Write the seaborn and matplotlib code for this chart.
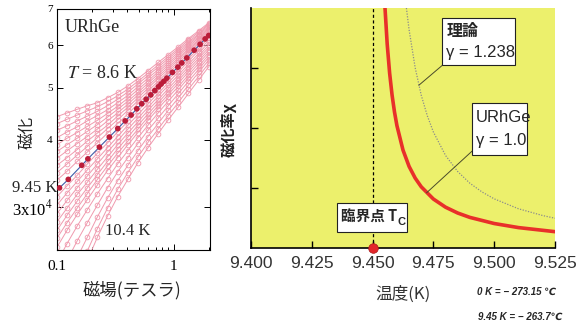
import numpy as np
import pandas as pd
import matplotlib
matplotlib.use("Agg")
import matplotlib.pyplot as plt
from matplotlib.patches import Rectangle
from matplotlib.ticker import FixedLocator, FixedFormatter, NullLocator, NullFormatter, LogLocator
import seaborn as sns

# ---------------- data ----------------
# magnetic field grid of the isotherms (tesla)
field = [0.1, 0.122, 0.149, 0.182, 0.222, 0.271, 0.331, 0.405, 0.494, 0.603,
         0.736, 0.899, 1.10, 1.34, 1.64, 2.0]

# magnetization (units of 1e4) -- isotherms below Tc, from 8.6 K upward
m_ferro_01 = [4.42, 4.49, 4.56, 4.63, 4.69, 4.79, 4.90, 5.04, 5.20, 5.38, 5.57, 5.76, 5.96, 6.17, 6.38, 6.60]
m_ferro_02 = [4.29, 4.37, 4.45, 4.53, 4.61, 4.71, 4.83, 4.97, 5.14, 5.32, 5.51, 5.71, 5.91, 6.13, 6.34, 6.57]
m_ferro_03 = [4.17, 4.25, 4.34, 4.43, 4.52, 4.63, 4.76, 4.91, 5.08, 5.27, 5.46, 5.66, 5.87, 6.08, 6.30, 6.54]
m_ferro_04 = [4.04, 4.14, 4.23, 4.34, 4.44, 4.55, 4.69, 4.84, 5.02, 5.21, 5.40, 5.61, 5.82, 6.04, 6.27, 6.50]
m_ferro_05 = [3.92, 4.03, 4.13, 4.24, 4.35, 4.48, 4.62, 4.78, 4.96, 5.15, 5.35, 5.56, 5.77, 6.00, 6.23, 6.47]
m_ferro_06 = [3.81, 3.92, 4.03, 4.15, 4.27, 4.41, 4.56, 4.72, 4.90, 5.10, 5.30, 5.51, 5.73, 5.96, 6.19, 6.44]
m_ferro_07 = [3.70, 3.82, 3.94, 4.06, 4.19, 4.34, 4.49, 4.66, 4.85, 5.04, 5.25, 5.46, 5.68, 5.91, 6.15, 6.40]
m_ferro_08 = [3.59, 3.71, 3.84, 3.98, 4.12, 4.26, 4.43, 4.60, 4.79, 4.99, 5.20, 5.41, 5.64, 5.87, 6.12, 6.37]
m_ferro_09 = [3.48, 3.61, 3.75, 3.89, 4.04, 4.20, 4.36, 4.54, 4.73, 4.93, 5.14, 5.36, 5.59, 5.83, 6.08, 6.34]
m_ferro_10 = [3.37, 3.50, 3.65, 3.80, 3.95, 4.12, 4.29, 4.47, 4.67, 4.87, 5.09, 5.31, 5.54, 5.78, 6.04, 6.30]

# isotherms above Tc, up to 10.4 K (the last ones start at higher field)
m_para_01 = [3.14, 3.29, 3.44, 3.61, 3.78, 3.95, 4.14, 4.33, 4.53, 4.74, 4.95, 5.18, 5.41, 5.66, 5.92, 6.19]
m_para_02 = [3.03, 3.19, 3.35, 3.52, 3.69, 3.87, 4.06, 4.26, 4.46, 4.67, 4.88, 5.11, 5.35, 5.60, 5.86, 6.13]
m_para_03 = [2.92, 3.09, 3.26, 3.43, 3.61, 3.80, 3.99, 4.19, 4.39, 4.60, 4.82, 5.05, 5.28, 5.53, 5.79, 6.07]
m_para_04 = [2.82, 2.99, 3.17, 3.34, 3.53, 3.72, 3.92, 4.12, 4.32, 4.54, 4.75, 4.98, 5.22, 5.47, 5.73, 6.00]
m_para_05 = [2.72, 2.90, 3.08, 3.26, 3.45, 3.65, 3.85, 4.05, 4.26, 4.47, 4.69, 4.92, 5.16, 5.41, 5.67, 5.94]
m_para_06 = [2.63, 2.81, 2.99, 3.18, 3.38, 3.58, 3.78, 3.98, 4.19, 4.41, 4.63, 4.86, 5.10, 5.35, 5.61, 5.88]
m_para_07 = [2.53, 2.72, 2.91, 3.10, 3.30, 3.51, 3.71, 3.92, 4.13, 4.35, 4.57, 4.80, 5.03, 5.28, 5.55, 5.82]
m_para_08 = [2.37, 2.57, 2.77, 2.97, 3.18, 3.39, 3.61, 3.82, 4.04, 4.26, 4.49, 4.72, 4.96, 5.22, 5.48, 5.76]
m_para_09 = [2.39, 2.60, 2.81, 3.03, 3.26, 3.49, 3.71, 3.94, 4.17, 4.39, 4.63, 4.88, 5.14, 5.41, 5.70]
m_para_10 = [2.42, 2.64, 2.88, 3.12, 3.36, 3.59, 3.82, 4.06, 4.29, 4.54, 4.79, 5.06, 5.34, 5.63]
m_para_11 = [2.49, 2.74, 2.99, 3.24, 3.48, 3.72, 3.96, 4.19, 4.44, 4.70, 4.97, 5.25, 5.55]
m_para_12 = [2.39, 2.64, 2.89, 3.14, 3.38, 3.63, 3.87, 4.11, 4.36, 4.61, 4.88, 5.17, 5.47]

# critical isotherm at 9.45 K
h_crit = [0.105, 0.125, 0.163, 0.184, 0.231, 0.281, 0.332, 0.384, 0.432, 0.483, 0.533, 0.581, 0.637,
          0.690, 0.741, 0.781, 0.824, 0.875, 0.977, 1.087, 1.175, 1.297, 1.50, 1.687, 1.862, 2.0]
m_crit = [3.26, 3.38, 3.59, 3.69, 3.88, 4.05, 4.20, 4.34, 4.45, 4.57, 4.67, 4.76, 4.85,
          4.94, 5.02, 5.08, 5.14, 5.21, 5.34, 5.46, 5.56, 5.68, 5.87, 6.02, 6.16, 6.25]

# susceptibility vs temperature (arb. units)
t_urhge = [9.4551, 9.456, 9.457, 9.458, 9.459, 9.46, 9.4625, 9.465, 9.4675, 9.47, 9.475,
           9.48, 9.485, 9.49, 9.50, 9.51, 9.525]
chi_urhge = [1.0, 0.85, 0.7286, 0.6375, 0.5667, 0.51, 0.408, 0.34, 0.2914, 0.255, 0.204,
             0.17, 0.1457, 0.1275, 0.102, 0.085, 0.068]
t_theory = [9.4639, 9.465, 9.4675, 9.47, 9.4725, 9.475, 9.48, 9.485, 9.49, 9.495, 9.50,
            9.51, 9.52, 9.525]
chi_theory = [1.0, 0.9096, 0.7512, 0.6366, 0.5507, 0.4832, 0.3855, 0.3185, 0.2699, 0.2334,
              0.2048, 0.1634, 0.1351, 0.1240]
t_c = 9.45

temp_ticks = [9.400, 9.425, 9.450, 9.475, 9.500, 9.525]
chi_ticks = [0.25, 0.5, 0.75]
m_ticks = [3e4, 4e4, 5e4, 6e4, 7e4]
m_tick_labels = ["3x10$^4$", "4", "5", "6", "7"]

# ---------------- style ----------------
sns.set_theme(style="ticks")
plt.rcParams["font.family"] = ["Liberation Serif", "Noto Sans CJK JP", "DejaVu Sans"]
plt.rcParams["mathtext.fontset"] = "stix"

W, H = 583, 330
fig = plt.figure(figsize=(W / 100, H / 100), dpi=100)
fig.patch.set_facecolor("white")


def fx(x):
    return x / W


def fy(y):
    return 1 - y / H


CJK = ["Noto Sans CJK JP", "DejaVu Sans"]
SANS = ["Liberation Sans", "Noto Sans CJK JP", "DejaVu Sans"]
PINK = "#F09AAE"

# ---------------- left panel: isotherms ----------------
ax1 = fig.add_axes([fx(57), fy(250), fx(210) - fx(57), fy(9) - fy(250)])
ax1.set_facecolor("white")
ax1.set_xscale("log")
ax1.set_yscale("log")

isotherms = [m_ferro_01, m_ferro_02, m_ferro_03, m_ferro_04, m_ferro_05, m_ferro_06, m_ferro_07,
             m_ferro_08, m_ferro_09, m_ferro_10, m_para_01, m_para_02, m_para_03, m_para_04,
             m_para_05, m_para_06, m_para_07, m_para_08, m_para_09, m_para_10, m_para_11, m_para_12]
frames = []
for n, vals in enumerate(isotherms):
    frames.append(pd.DataFrame({"H": field[-len(vals):],
                                "M": np.asarray(vals) * 1e4,
                                "curve": n}))
iso = pd.concat(frames, ignore_index=True)

sns.lineplot(data=iso, x="H", y="M", units="curve", estimator=None, sort=False,
             color=PINK, lw=0.7, marker="o", markersize=3.4, markerfacecolor="none",
             markeredgecolor=PINK, markeredgewidth=0.6, legend=False, ax=ax1, zorder=2)

crit = pd.DataFrame({"H": h_crit, "M": np.asarray(m_crit) * 1e4})
sns.lineplot(data=crit, x="H", y="M", color="#3E5CA8", lw=0.8, ax=ax1, zorder=3)
sns.scatterplot(data=crit, x="H", y="M", color="#BB1D3A", s=17, edgecolor="none", ax=ax1, zorder=4)

ax1.set_xlim(0.1, 2.05)
ax1.set_ylim(2.5e4, 7e4)
ax1.set_xlabel("")
ax1.set_ylabel("")

ax1.xaxis.set_major_locator(FixedLocator([0.1, 1]))
ax1.xaxis.set_major_formatter(FixedFormatter(["0.1", "1"]))
ax1.xaxis.set_minor_locator(LogLocator(base=10, subs=np.arange(2, 10)))
ax1.xaxis.set_minor_formatter(NullFormatter())
ax1.yaxis.set_major_locator(FixedLocator(m_ticks))
ax1.yaxis.set_major_formatter(FixedFormatter(m_tick_labels))
ax1.yaxis.set_minor_locator(NullLocator())
ax1.yaxis.set_minor_formatter(NullFormatter())
ax1.tick_params(which="both", direction="in", top=True, right=True, color="black", width=0.7)
ax1.tick_params(which="major", length=4)
ax1.tick_params(which="minor", length=2.5)
ax1.tick_params(axis="x", which="major", pad=7, labelsize=11, labelcolor="black")
ax1.tick_params(axis="y", which="major", pad=3, labelsize=11, labelcolor="black")
for i, lbl in enumerate(ax1.get_yticklabels()):
    lbl.set_fontsize(12 if i == 0 else 8)
for sp in ax1.spines.values():
    sp.set_visible(True)
    sp.set_color("black")
    sp.set_linewidth(0.8)

fig.text(fx(65), fy(28), "URhGe", fontsize=13, va="center", ha="left")
fig.text(fx(67), fy(73), "$T$ = 8.6 K", fontsize=13, va="center", ha="left")
fig.text(fx(57), fy(188), "9.45 K", fontsize=12, va="center", ha="right")
fig.text(fx(105), fy(231), "10.4 K", fontsize=12, va="center", ha="left")
fig.text(fx(132), fy(290), "磁場(テスラ)", family=CJK, fontsize=12.5, va="center", ha="center")
fig.text(fx(27), fy(132), "磁化", family=CJK, fontsize=12, rotation=90, va="center", ha="center")

# ---------------- right panel: susceptibility ----------------
ax2 = fig.add_axes([fx(251), fy(248), fx(555) - fx(251), fy(8) - fy(248)])
ax2.set_facecolor("#ECF06C")
ax2.set_xlim(9.4, 9.525)
ax2.set_ylim(0, 1)

ax2.axvline(t_c, color="black", lw=0.9, ls=(0, (2.5, 2)), zorder=2)
sns.lineplot(x=t_theory, y=chi_theory, color="#8C8C8C", lw=0.9, ls=(0, (1, 1.2)), ax=ax2, zorder=3)
sns.lineplot(x=t_urhge, y=chi_urhge, color="#E8302A", lw=2.6, ax=ax2, zorder=4)
ax2.scatter([t_c], [0], s=48, color="#E3262A", edgecolor="#A81818", linewidth=0.5,
            clip_on=False, zorder=10)

for side in ("top", "right"):
    ax2.spines[side].set_visible(False)
for side in ("left", "bottom"):
    ax2.spines[side].set_visible(True)
    ax2.spines[side].set_color("black")
    ax2.spines[side].set_linewidth(1.2)

ax2.xaxis.set_major_locator(FixedLocator(temp_ticks))
ax2.xaxis.set_major_formatter(FixedFormatter(["%.3f" % t for t in temp_ticks]))
ax2.yaxis.set_major_locator(FixedLocator(chi_ticks))
ax2.yaxis.set_major_formatter(NullFormatter())
ax2.tick_params(which="major", direction="in", length=5, width=1, color="black",
                bottom=True, left=True, top=False, right=False)
ax2.tick_params(axis="x", pad=6, labelsize=12.5, labelcolor="#333333")
for lbl in ax2.get_xticklabels():
    lbl.set_family(SANS)
ax2.set_xlabel("")
ax2.set_ylabel("")

fig.text(fx(403), fy(294), "温度(K)", family=CJK, fontsize=12, color="#333333",
         va="center", ha="center")
fig.text(fx(229), fy(130), "磁化率χ", family=CJK, fontsize=11, weight="bold",
         rotation=90, va="center", ha="center", color="#222222")


def ax_frac(px, py):
    return ((px - 251) / 304, (248 - py) / 240)


def label_box(x0, y0, x1, y1):
    (ax0, ay1) = ax_frac(x0, y1)
    (ax1_, ay0) = ax_frac(x1, y0)
    ax2.add_patch(Rectangle((ax0, ay1), ax1_ - ax0, ay0 - ay1, transform=ax2.transAxes,
                            facecolor="white", edgecolor="#222222", lw=0.8, zorder=6,
                            clip_on=False))


LEAD = dict(arrowstyle="-", color="#4A4A2A", lw=0.7, shrinkA=0, shrinkB=0)

# theory label
label_box(441.7, 18, 515, 65)
ax2.text(*ax_frac(447, 31), "理論", family=CJK, fontsize=11.5, weight="bold",
         va="center", ha="left", transform=ax2.transAxes, zorder=7)
ax2.text(*ax_frac(446, 53), "γ = 1.238", family=SANS, fontsize=12,
         va="center", ha="left", transform=ax2.transAxes, zorder=7)
ax2.annotate("", xy=(9.469, 0.678), xycoords="data",
             xytext=ax_frac(442.7, 65), textcoords="axes fraction", arrowprops=LEAD, zorder=5)

# URhGe label
label_box(471.7, 103, 526.7, 155)
ax2.text(*ax_frac(476, 117), "URhGe", family=SANS, fontsize=12,
         va="center", ha="left", transform=ax2.transAxes, zorder=7)
ax2.text(*ax_frac(476, 141), "γ = 1.0", family=SANS, fontsize=12,
         va="center", ha="left", transform=ax2.transAxes, zorder=7)
ax2.annotate("", xy=(9.4722, 0.23), xycoords="data",
             xytext=ax_frac(473.3, 150), textcoords="axes fraction", arrowprops=LEAD, zorder=5)

# critical point label with subscript C
label_box(336.7, 203, 406.7, 232)
tc_txt = ax2.text(*ax_frac(341, 217), "臨界点 T", family=CJK, fontsize=10.5,
                  weight="bold", va="center", ha="left", transform=ax2.transAxes, zorder=7)
ax2.annotate("C", xy=(1.0, 0.18), xycoords=tc_txt, xytext=(0.5, 0), textcoords="offset points",
             family=SANS, fontsize=8, weight="bold", va="center", ha="left", zorder=7)

# conversion notes
fig.text(fx(477), fy(292), "0 K = − 273.15 ℃", family=["Liberation Sans", "DejaVu Sans"],
         fontsize=7, weight="bold", style="italic", va="center", ha="left")
fig.text(fx(478), fy(317), "9.45 K = − 263.7℃", family=["Liberation Sans", "DejaVu Sans"],
         fontsize=7, weight="bold", style="italic", va="center", ha="left")

fig.savefig("out.png", dpi=100)
